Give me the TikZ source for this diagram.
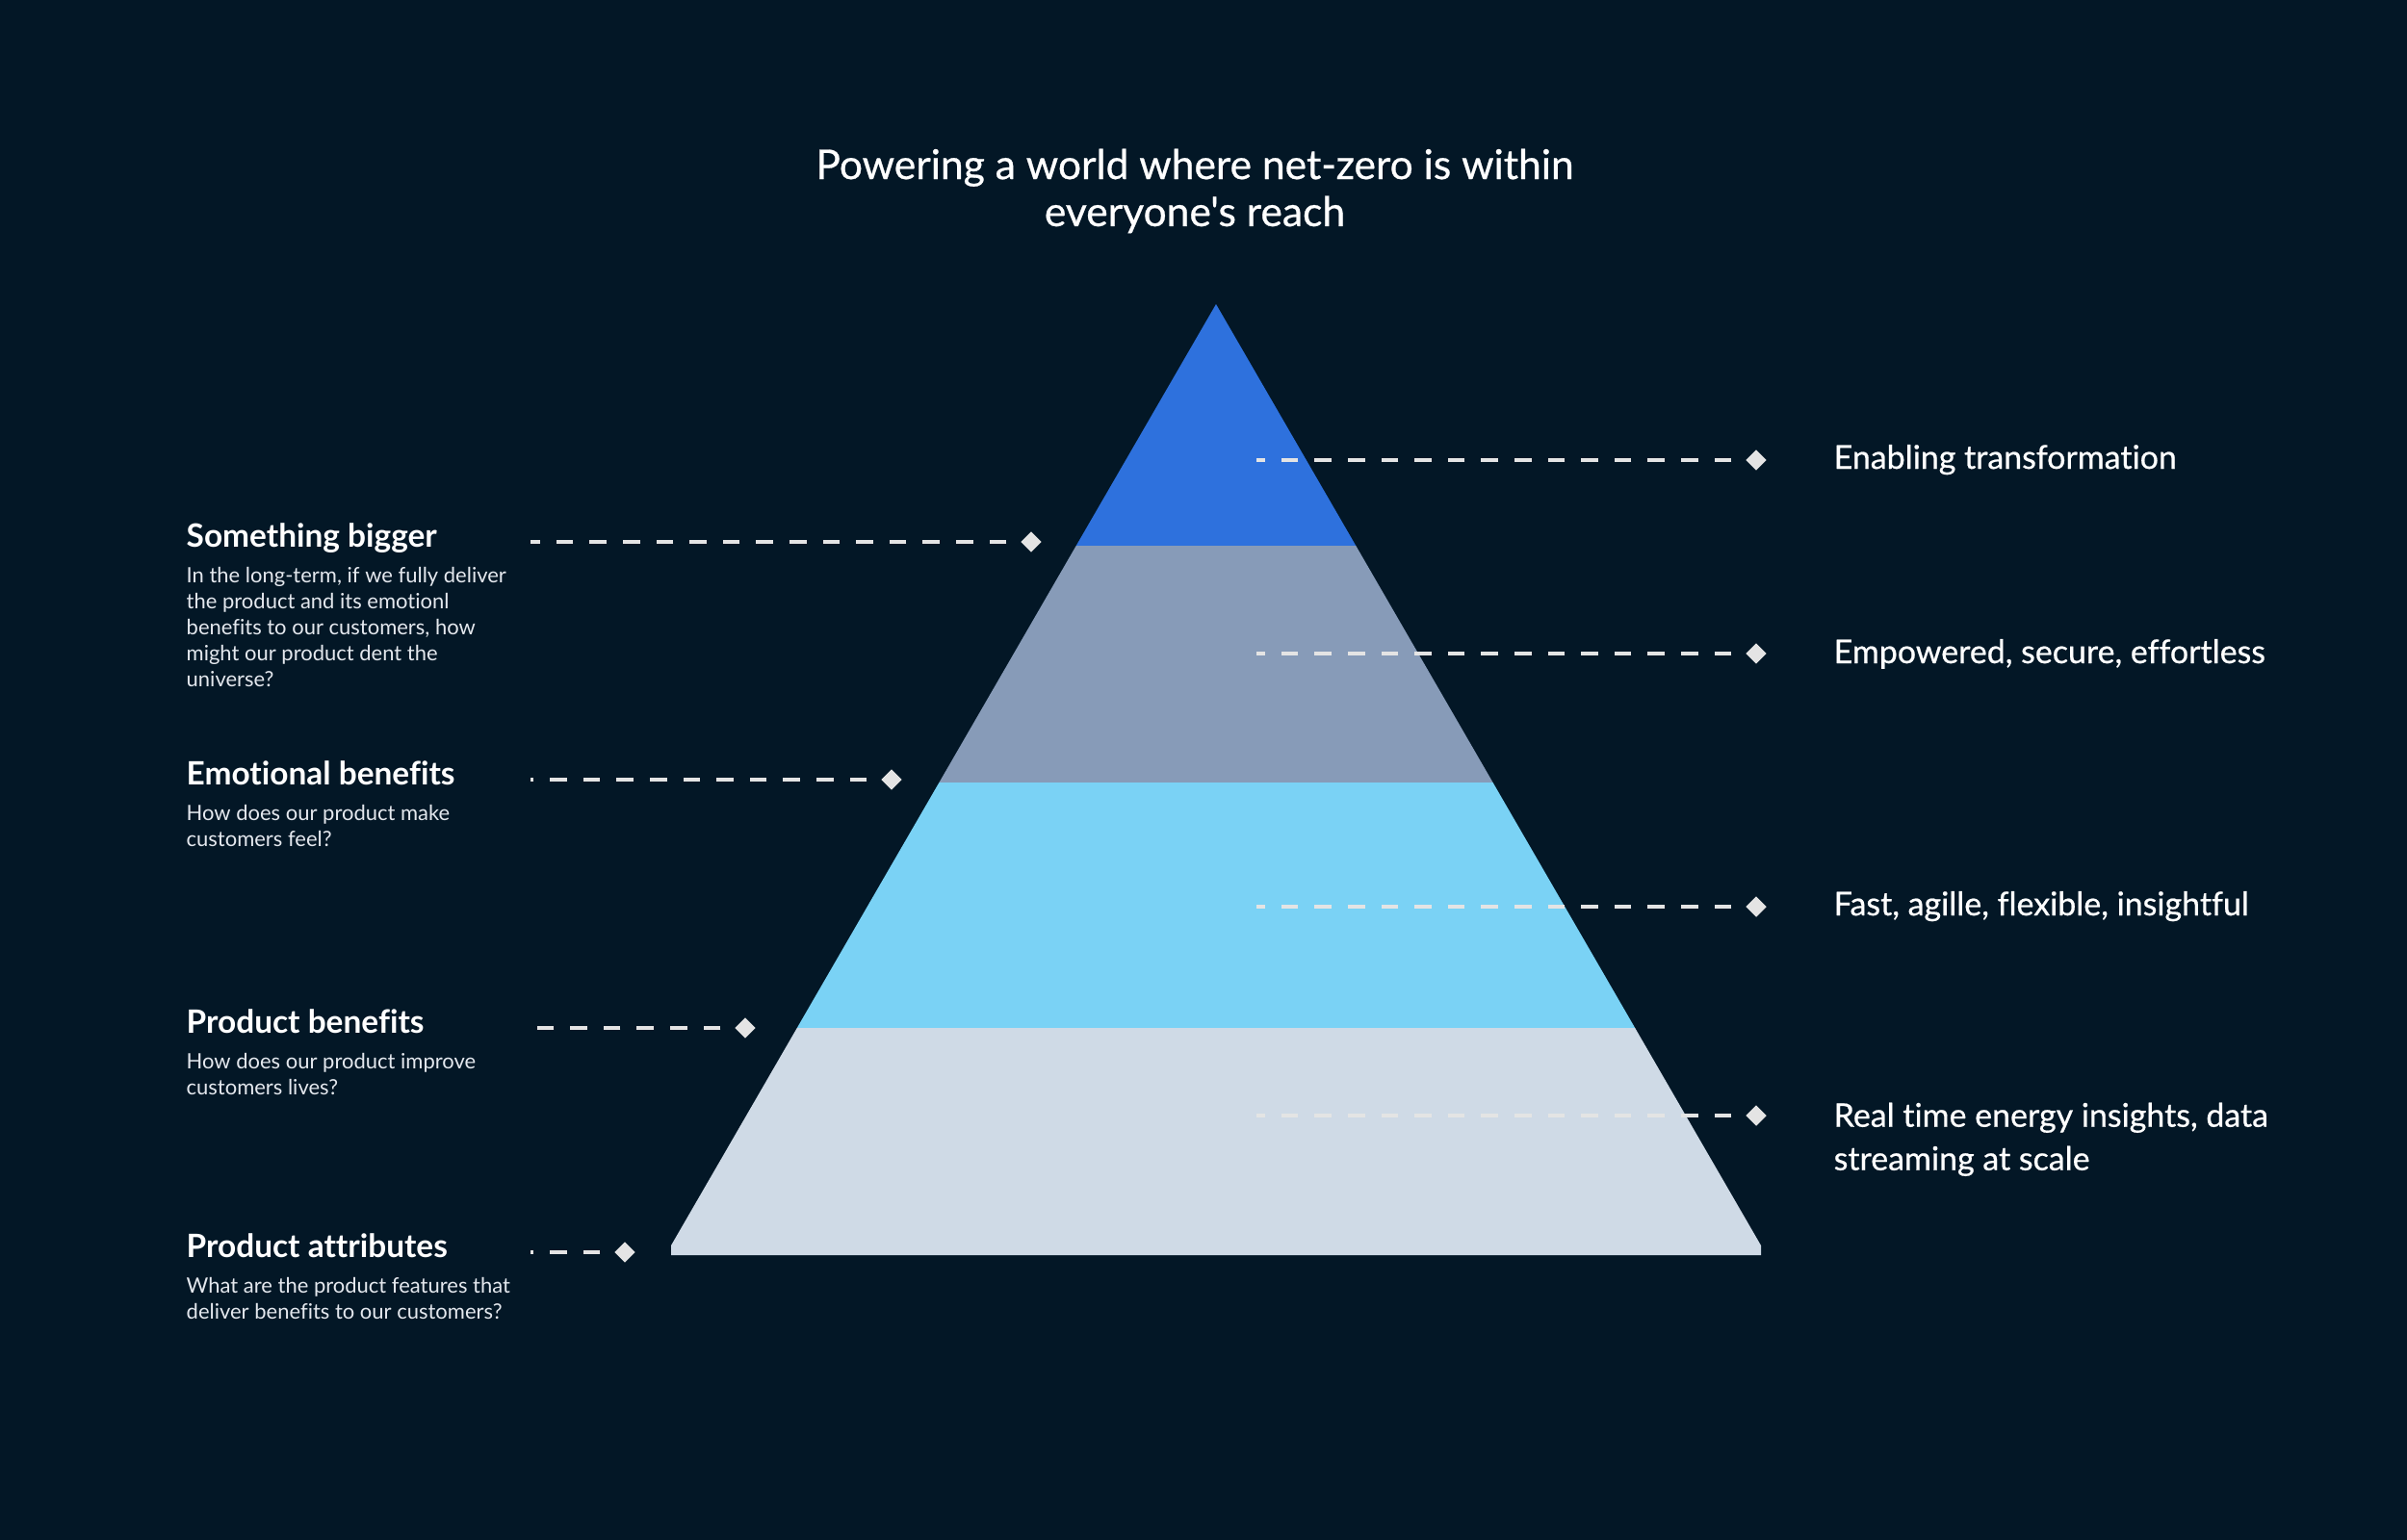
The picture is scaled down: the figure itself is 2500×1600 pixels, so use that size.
\documentclass[tikz,border=0pt]{standalone}
\usepackage{fontspec}
\setmainfont{Lato}[Ligatures={NoCommon,NoContextual,NoRequired}]
\newfontfamily\medfont{Lato}[FakeBold=0.6, Ligatures={NoCommon,NoContextual,NoRequired}]
\usetikzlibrary{shapes.geometric}

\definecolor{night}{RGB}{3,23,38}
\definecolor{tierone}{RGB}{46,113,221}
\definecolor{tiertwo}{RGB}{135,155,184}
\definecolor{tierthree}{RGB}{122,210,245}
\definecolor{tierfour}{RGB}{207,218,230}
\definecolor{leadgrey}{RGB}{228,228,228}
\definecolor{blurbgrey}{RGB}{228,232,238}

\tikzset{
	leader/.style={draw=leadgrey, line width=1.1pt, dash pattern=on 5.04pt off 4.8pt, shorten <=0.14cm},
	tip/.style={diamond, fill=leadgrey, inner sep=0pt, minimum width=0.22cm, minimum height=0.22cm},
	headline/.style={text=white, font=\medfont\fontsize{12.1pt}{13.9pt}\selectfont, align=center, inner sep=0pt},
	heading/.style={text=white, font=\bfseries\fontsize{9.5pt}{11pt}\selectfont, inner sep=0pt, anchor=base west},
	blurb/.style={text=blurbgrey, font=\fontsize{6.25pt}{7.68pt}\selectfont, align=left, inner sep=0pt, anchor=north west},
	tag/.style={text=white, font=\medfont\fontsize{9.65pt}{12.8pt}\selectfont, align=left, inner sep=0pt},
}

\begin{document}
\begin{tikzpicture}[x=0.01cm, y=-0.01cm]
		\fill[night] (0,0) rectangle (2500,1600);
		\useasboundingbox (0,0) rectangle (2500,1600);
		
		\node[headline, anchor=north] (title) at (1241,154) {Powering a world where net-zero is within\\everyone's reach};
		
		% pyramid tiers
		\fill[tierone] (1263,316) -- (1408.3,567) -- (1117.7,567) -- cycle;
		\fill[tiertwo] (1117.7,567) -- (1408.3,567) -- (1550.6,813) -- (975.4,813) -- cycle;
		\fill[tierthree] (975.4,813) -- (1550.6,813) -- (1698.2,1068) -- (827.8,1068) -- cycle;
		\fill[tierfour] (827.8,1068) -- (1698.2,1068) -- (1829,1294) -- (1829,1304) -- (697,1304) -- (697,1294) -- cycle;
		
		% leaders on the right
		\foreach \y/\name in {478/a, 679/b, 942/c, 1159/d} {
			\node[tip] (r\name) at (1824,\y) {};
			\coordinate (r\name s) at (1305,\y);
			\draw[leader] (r\name) -- (r\name s);
		}
		% leaders on the left
		\foreach \x/\y/\name in {1071/563/a, 926/810/b, 774/1068/c, 649/1301/d} {
			\node[tip] (l\name) at (\x,\y) {};
			\coordinate (l\name s) at (551,\y);
			\draw[leader] (l\name) -- (l\name s);
		}
		
		\node[tag, anchor=base west] (tra) at (1904,487) {Enabling transformation};
		\node[tag, anchor=base west] (trb) at (1904,689) {Empowered, secure, effortless};
		\node[tag, anchor=base west] (trc) at (1904,951) {Fast, agille, flexible, insightful};
		\node[tag, anchor=north west] (trd) at (1904,1145) {Real t\kern0pt ime energy insights, data\\streaming at scale};
		
		\node[heading] (hla) at (193,568) {Something bigger};
		\node[blurb] (bla) at (193,589) {In the long-term, if we fully deliver\\the product and its emot\kern0pt ionl\\benef\kern0pt its to our customers, how\\might our product dent the\\universe?};
		\node[heading] (hlb) at (193,815) {Emot\kern0pt ional benef\kern0pt its};
		\node[blurb] (blb) at (193,836) {How does our product make\\customers feel?};
		\node[heading] (hlc) at (193,1073) {Product benef\kern0pt its};
		\node[blurb] (blc) at (193,1094) {How does our product improve\\customers lives?};
		\node[heading] (hld) at (193,1306) {Product attributes};
		\node[blurb] (bld) at (193,1327) {What are the product features that\\deliver benef\kern0pt its to our customers?};
	\end{tikzpicture}
\end{document}
